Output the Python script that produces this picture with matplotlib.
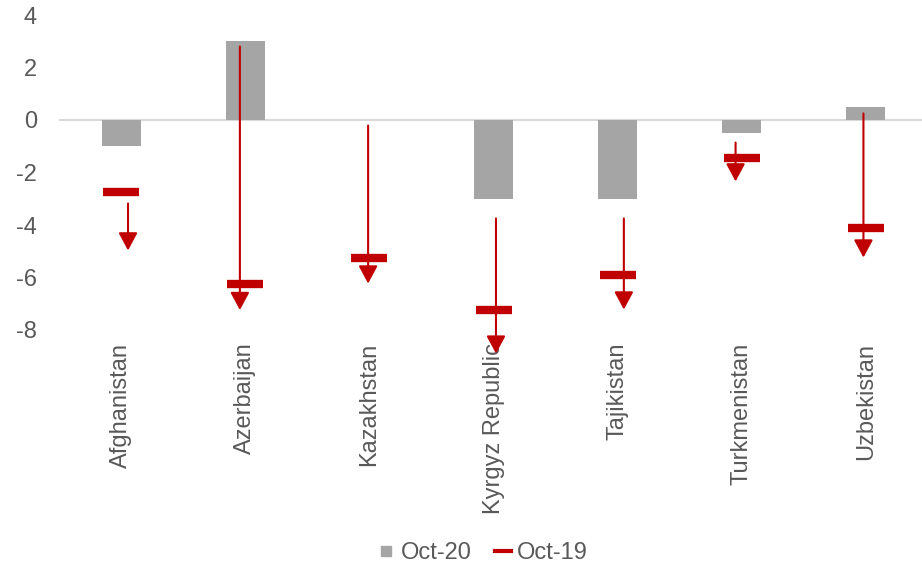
import matplotlib
matplotlib.use("Agg")
import matplotlib.pyplot as plt
from matplotlib.lines import Line2D
from matplotlib.patches import FancyArrowPatch, ArrowStyle
import numpy as np

plt.rcParams['font.family'] = ['Liberation Sans', 'DejaVu Sans']
plt.rcParams['axes.unicode_minus'] = False

categories = ["Afghanistan", "Azerbaijan", "Kazakhstan", "Kyrgyz Republic",
              "Tajikistan", "Turkmenistan", "Uzbekistan"]
oct20 = [-1.0, 3.0, 0.0, -3.0, -3.0, -0.5, 0.5]
oct19 = [-2.76, -6.23, -5.24, -7.22, -5.92, -1.43, -4.10]
# annotation arrows (start value, end value, horizontal offset in category units)
arrow_start = [-3.18, 2.8, -0.21, -3.75, -3.75, -0.86, 0.25]
arrow_end = [-4.97, -7.24, -6.23, -8.9, -7.22, -2.34, -5.24]
arrow_dx = [0.056, -0.043, -0.01, 0.02, 0.05, -0.05, -0.02]
yticks = [-8, -6, -4, -2, 0, 2, 4]

GRAY = "#A5A5A5"
RED = "#C00000"
TXT = "#595959"

fig = plt.figure(figsize=(9.22, 5.65), dpi=100)
ax = fig.add_axes([59/922, 1-330/565, 869/922, 315/565])

x = np.arange(len(categories))
ax.bar(x, oct20, width=0.315, color=GRAY, zorder=2)

for xi, s, e, dx in zip(x, arrow_start, arrow_end, arrow_dx):
    arr = FancyArrowPatch((xi+dx, s), (xi+dx, e),
                          arrowstyle=ArrowStyle('-|>', head_length=10.8, head_width=5.8),
                          mutation_scale=1, lw=1.5, color=RED,
                          shrinkA=0, shrinkB=0, zorder=3, clip_on=False)
    ax.add_patch(arr)

ax.plot(x, oct19, linestyle='none', marker='_', markersize=26, markeredgewidth=6,
        color=RED, zorder=4, clip_on=False)

ax.set_xlim(-0.5, len(categories)-0.5)
ax.set_ylim(-8, 4)
ax.set_yticks(yticks)
ax.set_yticklabels([str(t) for t in yticks])
ax.set_xticks(x)
ax.set_xticklabels(categories, rotation=90, va='top', ha='center')
ax.tick_params(axis='both', length=0, labelsize=17, colors=TXT)
ax.tick_params(axis='y', pad=16)
ax.tick_params(axis='x', pad=9)
for sp in ['top', 'right', 'left', 'bottom']:
    ax.spines[sp].set_visible(False)
ax.axhline(0, color="#D9D9D9", lw=1.5, zorder=1)

handles = [Line2D([], [], linestyle='none', marker='s', markersize=7.5, color=GRAY),
           Line2D([], [], color=RED, lw=3)]
fig.legend(handles, ["Oct-20", "Oct-19"], loc='center', bbox_to_anchor=(0.524, 0.021),
           ncol=2, frameon=False, fontsize=17, labelcolor=TXT,
           handlelength=0.7, handletextpad=0.25, columnspacing=1.0)

fig.savefig("out.png", dpi=100)
